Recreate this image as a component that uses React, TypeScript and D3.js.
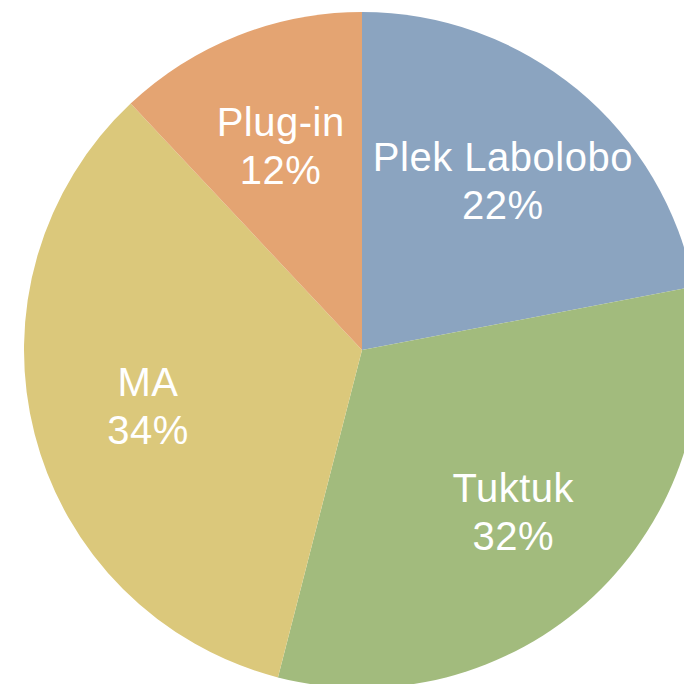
import React from "react";
import * as d3 from "d3";

const categories = ["Plek Labolobo", "Tuktuk", "MA", "Plug-in"];
const values = [22, 32, 34, 12];
const colors = ["#8BA4C0", "#A2BB7D", "#DBC87B", "#E4A472"];

export default function App() {
  const W = 684, H = 684;
  const cx = 362, cy = 350, R = 338, labelR = 221;
  const pie = d3.pie<number>().sort(null).value((d) => d);
  const arcs = pie(values);
  const arc = d3.arc<d3.PieArcDatum<number>>().innerRadius(0).outerRadius(R);
  const labelArc = d3.arc<d3.PieArcDatum<number>>().innerRadius(labelR).outerRadius(labelR);
  const total = d3.sum(values);
  return (
    <svg width={W} height={H} style={{ position: "absolute", left: 0, top: 0 }}>
      <g transform={`translate(${cx},${cy})`}>
        {arcs.map((a, i) => (
          <path key={i} d={arc(a) || ""} fill={colors[i]} />
        ))}
        {arcs.map((a, i) => {
          const [x, y] = labelArc.centroid(a);
          return (
            <text
              key={"t" + i}
              x={x}
              y={y}
              textAnchor="middle"
              fill="#ffffff"
              fontFamily="'Liberation Sans', Arial, sans-serif"
              fontSize={40}
              letterSpacing={0.5}
            >
              <tspan x={x} dy={-9}>{categories[i]}</tspan>
              <tspan x={x} dy={48}>{Math.round((values[i] / total) * 100)}%</tspan>
            </text>
          );
        })}
      </g>
    </svg>
  );
}
